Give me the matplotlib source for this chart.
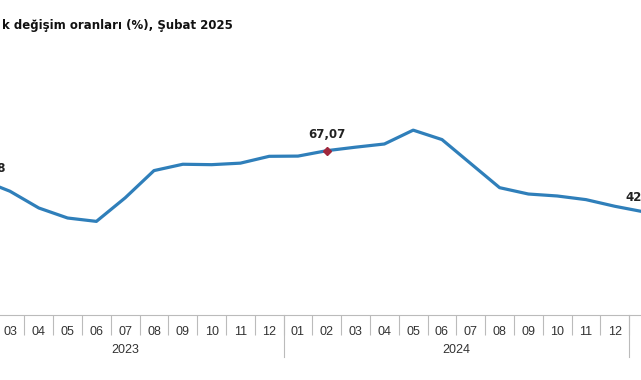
import matplotlib
matplotlib.use("Agg")
import matplotlib.pyplot as plt
import matplotlib.transforms as mtransforms
import numpy as np

# yillik degisim (%) 2023-02 .. 2025-02
months = ['02', '03', '04', '05', '06', '07', '08', '09', '10', '11', '12',
          '01', '02', '03', '04', '05', '06', '07', '08', '09', '10', '11', '12',
          '01', '02']
years = ['2023'] * 11 + ['2024'] * 12 + ['2025'] * 2
values = [55.18, 50.51, 43.68, 39.59, 38.21, 47.83, 58.94, 61.53, 61.36, 61.98, 64.77,
          64.86, 67.07, 68.50, 69.80, 75.45, 71.60, 61.78, 51.97, 49.38, 48.58, 47.09, 44.38,
          42.12, 39.05]
labelled = {0: '55,18', 12: '67,07', 23: '42,12', 24: '39,05'}

W, H = 641, 380
fig = plt.figure(figsize=(W / 100, H / 100), dpi=100)
ax = fig.add_axes([0, (H - 315) / H, 1, (315 - 119) / H])

x = np.arange(len(values))
ax.plot(x, values, color='#2f7fba', lw=2.3, solid_joinstyle='round', zorder=3)
ax.plot(12, values[12], marker='D', ms=4.5, color='#a0283c', zorder=4)

offsets = {0: (6, 5), 12: (0, 10), 23: (0, 8), 24: (0, 8)}
for i, txt in labelled.items():
    ax.annotate(txt, (i, values[i]), xytext=offsets[i], textcoords='offset pixels',
                ha='center', va='bottom', fontsize=8.5, fontweight='bold',
                family='DejaVu Sans', color='#222222', annotation_clip=False)

for s in ['left', 'right', 'top']:
    ax.spines[s].set_visible(False)
ax.spines['bottom'].set_color('#bbbbbb')
ax.set_yticks([])

ax.set_xticks(x)
ax.set_xticklabels(months, family='Liberation Sans', fontsize=9, color='#333333')
ax.tick_params(axis='x', which='major', length=0, pad=8)
ax.set_xticks(x[:-1] + 0.5, minor=True)
ax.tick_params(axis='x', which='minor', length=14.5, color='#bbbbbb', width=0.8)
ax.set_xlim(0.653, 22.91)
ax.set_ylim(0, 80)

trans = mtransforms.blended_transform_factory(ax.transData, ax.transAxes)
ypix = (315 - 119)
for yr in ['2023', '2024']:
    idx = [i for i, y in enumerate(years) if y == yr]
    ax.text(np.mean(idx), -35 / ypix, yr, transform=trans, ha='center', va='center',
            family='Liberation Sans', fontsize=9, color='#333333')
for i in range(1, len(years)):
    if years[i] != years[i - 1]:
        ax.plot([i - 0.5, i - 0.5], [0, -42 / ypix], transform=trans, color='#bbbbbb',
                lw=0.8, clip_on=False)

fig.text(2 / W, 1 - 26 / H, 'k değişim oranları (%), Şubat 2025', ha='left', va='center',
         fontsize=8.5, fontweight='bold', family='DejaVu Sans', color='#111111')

fig.savefig('out.png', dpi=100)
